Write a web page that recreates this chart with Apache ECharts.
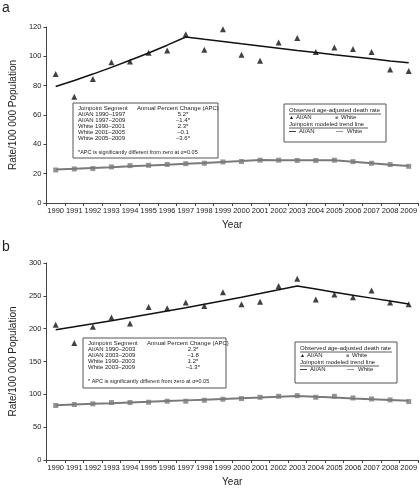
<!DOCTYPE html>
<html><head><meta charset="utf-8">
<script src="https://cdn.jsdelivr.net/npm/echarts@6/dist/echarts.min.js"></script>
<style>html,body{margin:0;padding:0;background:#fff}#c{width:420px;height:488px}</style>
</head><body><div id="c"></div>
<script>
const years = ['1990','1991','1992','1993','1994','1995','1996','1997','1998','1999','2000','2001','2002','2003','2004','2005','2006','2007','2008','2009'];

const aAianObs   = [88, 72.5, 84.5, 96, 96.5, 102.5, 104, 115, 104.5, 118.5, 101, 97, 109.5, 112.5, 103, 106, 105, 103, 91, 90];
const aAianTrend = [79.4, 83.5, 87.9, 92.5, 97.3, 102.3, 107.6, 113.2, 111.6, 110.1, 108.5, 107.0, 105.5, 104.0, 102.6, 101.1, 99.7, 98.3, 96.9, 95.6];
const aWhiteObs  = [22.5, 23.2, 23.5, 24.6, 25.5, 25.7, 26.3, 26.8, 27.1, 28, 28.3, 29.2, 29.2, 29, 29, 29.2, 28.2, 27.1, 26.2, 25.0];
const aWhiteTrend= [22.8, 23.3, 23.9, 24.4, 25.0, 25.6, 26.1, 26.7, 27.3, 28.0, 28.6, 29.3, 29.2, 29.2, 29.2, 29.1, 28.1, 27.1, 26.1, 25.2];

const bAianObs   = [206, 178, 203, 217, 208, 233, 231, 240, 234.5, 255.5, 237, 241, 265, 276, 244.5, 252, 248, 258, 240, 237];
const bAianTrend = [198.5, 203.0, 207.5, 212.2, 217.0, 221.9, 226.9, 232.0, 237.2, 242.5, 248.0, 253.6, 259.3, 265.0, 260.3, 255.6, 251.0, 246.5, 242.0, 237.7];
const bWhiteObs  = [83, 84.5, 85.5, 87.5, 87.5, 88, 89.5, 89.5, 91, 92.5, 93.5, 95.5, 97, 98, 95.5, 97, 94.5, 93, 91.5, 89];
const bWhiteTrend= [83.5, 84.5, 85.5, 86.5, 87.6, 88.6, 89.7, 90.8, 91.9, 93.0, 94.1, 95.2, 96.4, 97.5, 96.2, 95.0, 93.7, 92.5, 91.3, 90.1];

const aSegments = ['AI/AN 1990–1997','AI/AN 1997–2009','White 1990–2001','White 2001–2005','White 2005–2009'];
const aApc      = ['5.2*','–1.4*','2.3*','–0.1','–3.6*'];
const aNote     = '*APC is significantly different from zero at α=0.05';
const bSegments = ['AI/AN 1990–2003','AI/AN 2003–2009','White 1990–2003','White 2003–2009'];
const bApc      = ['2.3*','–1.8','1.2*','–1.3*'];
const bNote     = '* APC is significantly different from zero at α=0.05';

const FONT = 'Liberation Sans';
const BLACK = '#111', GRAY = '#7a7a7a';

function txt(x, y, s, opts) {
  return Object.assign({type:'text', x:x, y:y, style:Object.assign({text:s, fontFamily:FONT, fontSize:6, fill:'#222', textVerticalAlign:'middle'}, opts||{})});
}
function tableBox(x, y, w, h, segs, apcs, note, noteDy) {
  const els = [{type:'rect', shape:{x:x, y:y, width:w, height:h}, style:{fill:'#fff', stroke:'#555', lineWidth:1}}];
  els.push(txt(x+5, y+5, 'Joinpoint Segment'));
  els.push(txt(x+64, y+5, 'Annual Percent Change (APC)'));
  segs.forEach((s,i)=>{
    els.push(txt(x+5, y+11+i*6, s));
    els.push(txt(x+110, y+11+i*6, apcs[i], {textAlign:'center'}));
  });
  els.push(txt(x+5, y+noteDy, note, {fontSize:5.5}));
  return els;
}
function legendBox(x, y, w, h) {
  const els = [{type:'rect', shape:{x:x, y:y, width:w, height:h}, style:{fill:'#fff', stroke:'#555', lineWidth:1}}];
  els.push(txt(x+5, y+6.5, 'Observed age-adjusted death rate'));
  els.push({type:'line', shape:{x1:x+5, y1:y+10, x2:x+97, y2:y+10}, style:{stroke:'#333', lineWidth:0.8}});
  els.push(txt(x+5, y+13.5, '▲', {fontSize:5, fill:BLACK}));
  els.push(txt(x+12, y+13.5, 'AI/AN'));
  els.push(txt(x+51, y+13.5, '■', {fontSize:5, fill:GRAY}));
  els.push(txt(x+57, y+13.5, 'White'));
  els.push(txt(x+5, y+20.5, 'Joinpoint modeled trend line'));
  els.push({type:'line', shape:{x1:x+5, y1:y+24, x2:x+84, y2:y+24}, style:{stroke:'#333', lineWidth:0.8}});
  els.push({type:'line', shape:{x1:x+5, y1:y+27.5, x2:x+12, y2:y+27.5}, style:{stroke:BLACK, lineWidth:0.8}});
  els.push(txt(x+15, y+27.5, 'AI/AN'));
  els.push({type:'line', shape:{x1:x+52, y1:y+27.5, x2:x+59, y2:y+27.5}, style:{stroke:GRAY, lineWidth:0.8}});
  els.push(txt(x+63, y+27.5, 'White'));
  return els;
}

const chart = echarts.init(document.getElementById('c'), null, {renderer:'canvas'});

function xAx(gi) {
  return {type:'category', gridIndex:gi, data:years, boundaryGap:true,
    name:'Year', nameLocation:'middle', nameGap:17,
    nameTextStyle:{fontFamily:FONT, fontSize:10, color:'#222'},
    axisLine:{lineStyle:{color:'#444', width:1}},
    axisTick:{show:true, length:3, lineStyle:{color:'#444'}},
    axisLabel:{interval:0, fontFamily:FONT, fontSize:7.5, color:'#222', margin:4},
    splitLine:{show:false}};
}
function yAx(gi, max, interval) {
  return {type:'value', gridIndex:gi, min:0, max:max, interval:interval,
    name:'Rate/100 000 Population', nameLocation:'middle', nameGap:26,
    nameTextStyle:{fontFamily:FONT, fontSize:10, color:'#222'},
    axisLine:{show:true, lineStyle:{color:'#444', width:1}},
    axisTick:{show:true, length:3, lineStyle:{color:'#444'}},
    axisLabel:{fontFamily:FONT, fontSize:7.5, color:'#222', margin:5},
    splitLine:{show:false}};
}
function trend(gi, data, color, width) {
  return {type:'line', xAxisIndex:gi, yAxisIndex:gi, data:data, symbol:'none', smooth:false,
    lineStyle:{color:color, width:width}, silent:true, z:2};
}
function obs(gi, data, sym, size, color) {
  return {type:'scatter', xAxisIndex:gi, yAxisIndex:gi, data:data, symbol:sym, symbolSize:size,
    itemStyle:{color:color}, silent:true, z:3};
}

chart.setOption({
  animation:false,
  backgroundColor:'#fff',
  grid:[
    {left:35, right:2, top:27, height:176},
    {left:35, right:2, top:263, height:199}
  ],
  xAxis:[xAx(0), xAx(1)],
  yAxis:[yAx(0,120,20), yAx(1,300,50)],
  series:[
    trend(0, aWhiteTrend, GRAY, 2),
    obs(0, aWhiteObs, 'rect', 5, GRAY),
    trend(0, aAianTrend, BLACK, 1.5),
    obs(0, aAianObs, 'triangle', 6, BLACK),
    trend(1, bWhiteTrend, GRAY, 2),
    obs(1, bWhiteObs, 'rect', 5, GRAY),
    trend(1, bAianTrend, BLACK, 1.5),
    obs(1, bAianObs, 'triangle', 6, BLACK)
  ],
  graphic:[
    {type:'text', x:2, y:1, style:{text:'a', fontFamily:FONT, fontSize:14, fill:'#222'}},
    {type:'text', x:2, y:240, style:{text:'b', fontFamily:FONT, fontSize:14, fill:'#222'}}
  ].concat(
    tableBox(73, 103, 145, 55, aSegments, aApc, aNote, 49),
    legendBox(284, 104, 102, 38),
    tableBox(83, 338, 143, 50, bSegments, bApc, bNote, 43),
    legendBox(295, 342, 102, 41)
  )
});
</script></body></html>
